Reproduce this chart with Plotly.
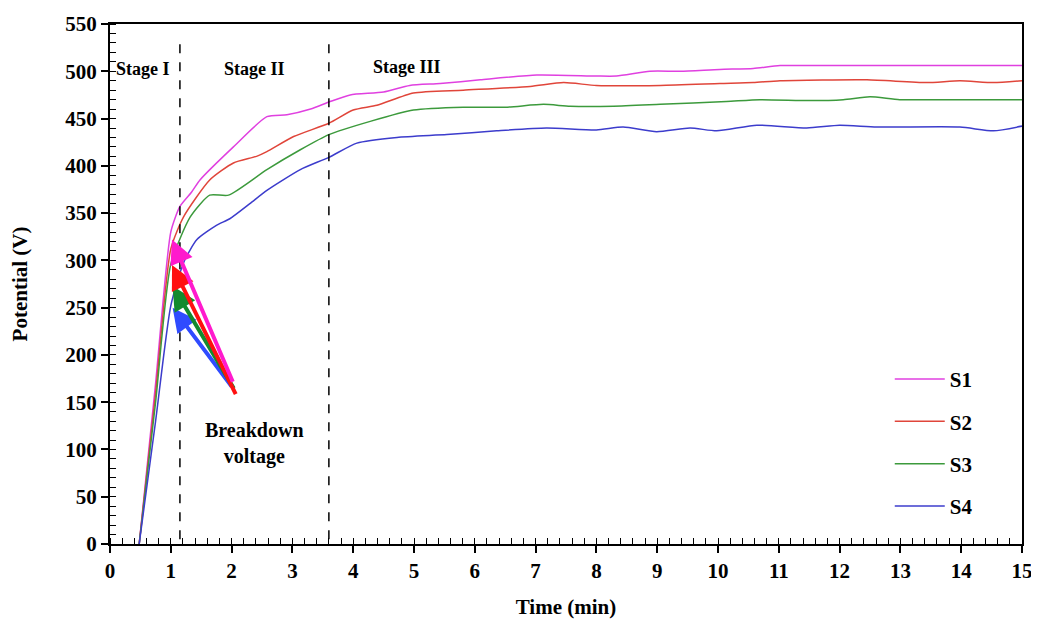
import plotly.graph_objects as go

# ---- data ----
s1_x = [0.48, 0.75, 1.0, 1.15, 1.34, 1.48, 2.03, 2.58, 2.91, 3.3, 3.62, 3.95, 4.5, 4.93, 5.43, 6.09, 7.02, 8.0, 8.33, 8.88, 9.38, 10.03, 10.58, 11.02, 12.0, 13.0, 14.0, 15.0]
s1_y = [0, 170, 330, 357, 372, 385, 420, 452, 454, 460, 468, 475, 478, 485, 487, 491, 496, 495, 495, 500, 500, 502, 503, 506, 506, 506, 506, 506]

s2_x = [0.48, 0.75, 1.0, 1.21, 1.64, 2.03, 2.41, 2.58, 3.02, 3.6, 4.0, 4.39, 4.99, 5.81, 6.91, 7.46, 8.0, 9.05, 10.03, 10.58, 11.02, 12.45, 13.43, 13.98, 14.53, 15.0]
s2_y = [0, 160, 312, 346, 385, 403, 410, 415, 431, 445, 459, 464, 477, 480, 484, 488, 485, 485, 487, 488, 490, 491, 488, 490, 488, 490]

s3_x = [0.48, 0.75, 1.0, 1.32, 1.64, 1.95, 2.58, 3.13, 3.6, 4.28, 4.99, 5.81, 6.5, 7.13, 7.57, 8.28, 9.05, 10.14, 10.69, 11.51, 12.06, 12.5, 12.99, 13.98, 15.0]
s3_y = [0, 150, 296, 346, 369, 369, 396, 417, 433, 447, 459, 462, 462, 465, 463, 463, 465, 468, 470, 469, 470, 473, 470, 470, 470]

s4_x = [0.48, 0.75, 1.0, 1.22, 1.43, 1.75, 1.97, 2.3, 2.58, 3.13, 3.6, 4.06, 4.72, 5.54, 6.36, 7.18, 8.0, 8.44, 8.99, 9.54, 9.98, 10.64, 11.46, 12.0, 12.61, 13.98, 14.53, 15.0]
s4_y = [0, 130, 252, 299, 322, 337, 344, 360, 374, 396, 409, 424, 430, 433, 437, 440, 438, 441, 436, 440, 437, 443, 440, 443, 441, 441, 437, 442]

series_names = ["S1", "S2", "S3", "S4"]
series_colors = ["#E040E0", "#E0453A", "#3C9A3C", "#3C3CCC"]

# stage boundaries and labels
stage_bounds = [1.15, 3.6]
stage_labels = ["Stage I", "Stage II", "Stage III"]
stage_label_x = [0.55, 2.38, 4.89]
stage_label_y = [502, 502, 505]

# breakdown voltage arrows (head -> tail)
arrow_head_x = [1.03, 1.03, 1.02, 1.02]
arrow_head_y = [250, 273, 295, 322]
arrow_tail_x = [2.02, 2.05, 2.08, 2.03]
arrow_tail_y = [165, 163, 157, 170]
arrow_colors = ["#2F4BFF", "#138A2E", "#FF1010", "#FF1ACD"]

FONT = "Liberation Serif"

fig = go.Figure()
xs = [s1_x, s2_x, s3_x, s4_x]
ys = [s1_y, s2_y, s3_y, s4_y]
for i in range(4):
    fig.add_trace(go.Scatter(
        x=xs[i], y=ys[i], mode="lines", name=series_names[i],
        line=dict(color=series_colors[i], width=1.5, shape="spline", smoothing=0.6),
        legendgroup=series_names[i],
    ))

shapes = []
for b in stage_bounds:
    shapes.append(dict(type="line", xref="x", yref="y", x0=b, x1=b, y0=5, y1=538,
                       line=dict(color="black", width=1.5, dash="dash")))

annotations = []
for t, x, y in zip(stage_labels, stage_label_x, stage_label_y):
    annotations.append(dict(text=t, x=x, y=y, xref="x", yref="y",
                            showarrow=False, font=dict(family=FONT, size=18, color="black", weight="bold")))
annotations.append(dict(text="Breakdown<br>voltage", x=2.38, y=106, xref="x", yref="y",
                        showarrow=False, font=dict(family=FONT, size=20, color="black", weight="bold")))
for hx, hy, tx, ty, c in zip(arrow_head_x, arrow_head_y, arrow_tail_x, arrow_tail_y, arrow_colors):
    annotations.append(dict(text="", x=hx, y=hy, ax=tx, ay=ty, xref="x", yref="y",
                            axref="x", ayref="y", showarrow=True, arrowhead=2,
                            arrowsize=1.2, arrowwidth=4, arrowcolor=c, standoff=0))

tickfont = dict(family=FONT, size=21, color="black", weight="bold")
titlefont = dict(family=FONT, size=21, color="black", weight="bold")
fig.update_layout(
    width=1031, height=611,
    margin=dict(l=102, r=17, t=16, b=75),
    paper_bgcolor="white", plot_bgcolor="white",
    showlegend=True,
    legend=dict(x=0.855, y=0.356, xanchor="left", yanchor="top",
                font=dict(family=FONT, size=21, color="black", weight="bold"),
                traceorder="grouped", tracegroupgap=12, itemwidth=50,
                bgcolor="rgba(0,0,0,0)"),
    shapes=shapes, annotations=annotations,
    xaxis=dict(range=[0, 15], dtick=1, tick0=0, showgrid=False, zeroline=False, automargin=False,
               showline=True, linecolor="black", linewidth=2, mirror=True,
               ticks="outside", ticklen=7, tickwidth=1.5, tickcolor="black",
               minor=dict(dtick=0.2, ticks="inside", ticklen=6, tickcolor="black", tickwidth=1),
               tickfont=tickfont,
               title=dict(text="Time (min)", font=titlefont, standoff=17)),
    yaxis=dict(range=[0, 550], dtick=50, tick0=0, showgrid=False, zeroline=False, automargin=False,
               showline=True, linecolor="black", linewidth=2, mirror=True,
               ticks="outside", ticklen=7, tickwidth=1.5, tickcolor="black",
               minor=dict(dtick=10, ticks="inside", ticklen=6, tickcolor="black", tickwidth=1),
               tickfont=tickfont,
               title=dict(text="Potential (V)", font=titlefont, standoff=32)),
    xaxis2=dict(range=[0, 15], overlaying="x", anchor="y", side="bottom", dtick=1, tick0=0,
                showgrid=False, zeroline=False, showline=False, showticklabels=False, automargin=False,
                ticks="inside", ticklen=5, tickwidth=1.5, tickcolor="black"),
    yaxis2=dict(range=[0, 550], overlaying="y", anchor="x", side="left", dtick=50, tick0=0,
                showgrid=False, zeroline=False, showline=False, showticklabels=False, automargin=False,
                ticks="inside", ticklen=5, tickwidth=1.5, tickcolor="black"),
)
fig.write_html("out.html")
